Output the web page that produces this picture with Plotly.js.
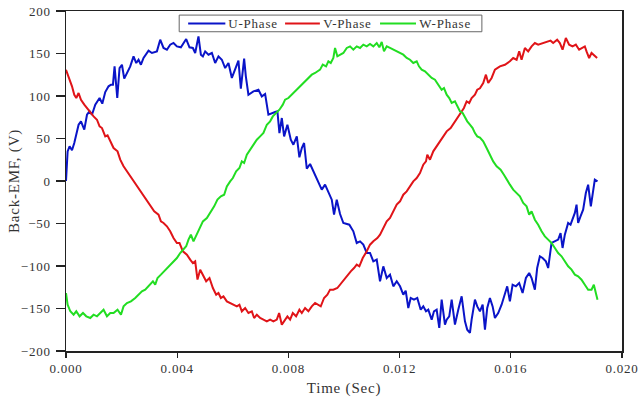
<!DOCTYPE html>
<html>
<head>
<meta charset="utf-8">
<script src="https://cdn.plot.ly/plotly-3.0.1.min.js"></script>
<style>
html,body{margin:0;padding:0;background:#fff;}
#chart{width:641px;height:399px;}
#chart svg text{letter-spacing:0.8px;}
</style>
</head>
<body>
<div id="chart"></div>
<script>
// Time (s) and Back-EMF (V)
const seriesNames = ["U-Phase", "V-Phase", "W-Phase"];

const tU = [0,0.000058,0.000129,0.000216,0.000298,0.000453,0.000539,0.000658,0.000755,0.000848,0.000934,0.001053,0.001208,0.001305,0.001412,0.001531,0.001617,0.001689,0.001747,0.001844,0.001926,0.002013,0.002095,0.002192,0.002311,0.002429,0.002527,0.002609,0.002695,0.002789,0.002969,0.003091,0.003270,0.003389,0.003508,0.003630,0.003748,0.003867,0.003989,0.004133,0.004323,0.004442,0.004564,0.004647,0.004765,0.004852,0.004924,0.005006,0.005125,0.005247,0.005366,0.005484,0.005606,0.005725,0.005844,0.005966,0.006085,0.006203,0.006289,0.006408,0.006469,0.006562,0.006742,0.006922,0.007044,0.007163,0.007281,0.007403,0.007522,0.007605,0.007677,0.007763,0.007846,0.007964,0.008086,0.008180,0.008302,0.008395,0.008482,0.008564,0.008661,0.008780,0.008899,0.009042,0.009200,0.009319,0.009438,0.009560,0.009642,0.009739,0.009858,0.009977,0.010192,0.010336,0.010458,0.010577,0.010695,0.010818,0.010936,0.011055,0.011177,0.011296,0.011414,0.011537,0.011655,0.011774,0.011896,0.012015,0.012133,0.012219,0.012313,0.012399,0.012518,0.012636,0.012759,0.012852,0.012949,0.013032,0.013154,0.013236,0.013333,0.013427,0.013513,0.013632,0.013693,0.013786,0.013873,0.013991,0.014110,0.014232,0.014351,0.014433,0.014530,0.014591,0.014710,0.014793,0.014890,0.014987,0.015070,0.015152,0.015249,0.015346,0.015429,0.015547,0.015669,0.015788,0.015871,0.015968,0.016065,0.016183,0.016302,0.016424,0.016543,0.016661,0.016748,0.016866,0.016949,0.017046,0.017143,0.017262,0.017344,0.017466,0.017585,0.017704,0.017790,0.017862,0.017944,0.018063,0.018149,0.018221,0.018304,0.018365,0.018422,0.018508,0.018602,0.018699,0.018782,0.018879,0.018961,0.019022,0.019119];
const vU = [0,34.8,40.8,36.1,44.7,66.2,70.1,60.4,78,82,78,89.8,97.6,91,104.7,111.4,113.3,113.3,134.8,97.6,132.9,136.8,120.4,127,134.8,146.6,138.8,142.7,136.8,144.7,153.3,150.6,152.5,166.2,156.5,154.5,160.4,162.4,158.4,157.3,167,157.3,156.5,150.6,170.2,148.6,146.6,152.5,148.6,150.6,138.8,146.6,142.7,132.9,138.8,121.2,131,141.6,108.6,144,123.1,101.5,105.4,107.4,99.5,102.3,78,80,81.2,82,56.4,74.1,52.5,66.2,48.6,42.7,52.5,27.8,38.8,44.7,14.5,20,11.4,1.6,-10.2,-4.3,-13,-22,-39.6,-22,-38.8,-49.4,-51.4,-59.2,-72.9,-71,-74.9,-84.7,-84.7,-94.5,-92.5,-118,-100.4,-114.1,-110.2,-123.9,-118,-123.9,-133.7,-129,-149.4,-137.6,-139.6,-137.6,-151.4,-147.5,-153.3,-151.4,-163.1,-153.3,-151.4,-172.9,-139.6,-169,-163.1,-159.2,-139.6,-169,-151.4,-135.7,-165.1,-174.9,-178.8,-163.1,-139.6,-147.5,-153.3,-145.5,-174.9,-149.4,-137.6,-147.5,-161.2,-155.3,-145.5,-133.7,-123.9,-141.6,-122,-123.9,-120,-131.8,-114.1,-108.2,-114.1,-127.8,-102.4,-88.6,-90.6,-94.5,-102.4,-72.9,-71,-69,-61.2,-78.8,-63.1,-49.4,-51.4,-45.5,-37.6,-27.8,-49.4,-41.6,-33.7,-14.1,-4.3,-29.8,-10.2,1.6,-0.4];

const tV = [0,0.000093,0.000216,0.000298,0.000370,0.000453,0.000539,0.000658,0.000755,0.000873,0.000992,0.001114,0.001208,0.001294,0.001412,0.001495,0.001592,0.001711,0.001854,0.001951,0.002070,0.002192,0.002311,0.002429,0.002573,0.002670,0.002789,0.002933,0.003055,0.003173,0.003328,0.003414,0.003508,0.003630,0.003748,0.003867,0.003989,0.004083,0.004205,0.004349,0.004467,0.004564,0.004647,0.004730,0.004827,0.004924,0.005042,0.005161,0.005283,0.005402,0.005484,0.005571,0.005664,0.005786,0.005905,0.006023,0.006146,0.006239,0.006325,0.006444,0.006562,0.006685,0.006767,0.006864,0.006983,0.007102,0.007224,0.007342,0.007461,0.007583,0.007666,0.007763,0.007881,0.007964,0.008061,0.008158,0.008277,0.008395,0.008482,0.008600,0.008719,0.008841,0.008960,0.009042,0.009164,0.009283,0.009402,0.009499,0.009617,0.009761,0.009858,0.009977,0.010099,0.010243,0.010361,0.010458,0.010552,0.010674,0.010818,0.010936,0.011055,0.011199,0.011296,0.011414,0.011537,0.011655,0.011774,0.011896,0.012015,0.012133,0.012255,0.012374,0.012492,0.012615,0.012733,0.012852,0.012949,0.012996,0.013093,0.013211,0.013333,0.013452,0.013571,0.013693,0.013836,0.013955,0.014052,0.014145,0.014232,0.014314,0.014411,0.014505,0.014591,0.014710,0.014793,0.014890,0.015008,0.015105,0.015188,0.015310,0.015429,0.015608,0.015788,0.015968,0.016086,0.016209,0.016302,0.016388,0.016507,0.016625,0.016748,0.016866,0.016985,0.017164,0.017287,0.017430,0.017524,0.017668,0.017765,0.017862,0.017980,0.018099,0.018221,0.018340,0.018458,0.018544,0.018663,0.018724,0.018818,0.018904,0.019022,0.019105];
const vV = [130.9,123.1,111.4,101.5,97.6,103.5,95.6,89.8,85.8,80,76,72.1,64.3,62.3,52.5,53.7,46.7,38.8,34.9,25.1,17.3,11.4,5.5,-0.4,-6.3,-12.2,-18,-23.9,-29.8,-35.7,-39.6,-47.5,-49.4,-53.3,-59.2,-67.1,-73,-73,-82.7,-86.7,-92.5,-96.5,-94.5,-116,-104.4,-110.2,-118,-114.1,-125.9,-133.7,-131.8,-137.6,-135.7,-141.6,-143.5,-145.5,-147.5,-145.5,-153.3,-149.4,-155.3,-153.3,-161.2,-157.3,-161.2,-163.1,-165.1,-163.1,-165.1,-163.1,-155.3,-169,-163.1,-159.2,-163.1,-155.3,-159.2,-151.4,-155.3,-149.4,-153.3,-147.5,-143.5,-145.5,-147.5,-137.6,-133.7,-127.8,-127.8,-125.9,-122,-116,-112.2,-106.3,-102.4,-98.4,-100.4,-90.6,-82.7,-74.9,-71,-67.1,-63.1,-55.3,-47.5,-43.5,-35.7,-27.8,-23.9,-16.1,-12.2,-6.3,-0.4,3.5,9.4,19.2,23.1,31,25.1,34.9,40.8,46.7,52.5,58.4,62.4,68.2,72.2,78,82,85.9,93.7,91.8,97.6,101.5,107.4,109,115.3,125.1,115.3,121.2,131,134.9,136.8,140.8,144.7,142.7,152.5,142.7,156.5,152.5,158.4,162.3,160.4,162.3,164.3,165.1,162.3,166.2,162.3,154.5,168.2,160.4,158.4,160.4,154.5,156.5,158.4,152.5,144.7,150.6,146.7,144.7];

const tW = [0,0.000058,0.000155,0.000273,0.000370,0.000489,0.000611,0.000730,0.000873,0.000992,0.001114,0.001233,0.001351,0.001473,0.001592,0.001711,0.001854,0.001977,0.002070,0.002192,0.002336,0.002491,0.002609,0.002731,0.002850,0.002969,0.003127,0.003209,0.003292,0.003414,0.003533,0.003630,0.003748,0.003867,0.003989,0.004108,0.004205,0.004323,0.004406,0.004492,0.004586,0.004708,0.004827,0.004924,0.005067,0.005186,0.005330,0.005448,0.005571,0.005689,0.005786,0.005905,0.006002,0.006120,0.006239,0.006325,0.006408,0.006505,0.006624,0.006742,0.006864,0.006983,0.007102,0.007224,0.007342,0.007439,0.007558,0.007677,0.007799,0.007881,0.008000,0.008122,0.008241,0.008359,0.008482,0.008600,0.008719,0.008841,0.008960,0.009042,0.009139,0.009236,0.009355,0.009438,0.009524,0.009617,0.009678,0.009761,0.009858,0.009977,0.010099,0.010218,0.010336,0.010458,0.010577,0.010695,0.010818,0.010936,0.011055,0.011177,0.011271,0.011357,0.011439,0.011537,0.011655,0.011774,0.011896,0.012015,0.012133,0.012255,0.012374,0.012492,0.012615,0.012697,0.012794,0.012913,0.013032,0.013154,0.013272,0.013391,0.013513,0.013596,0.013693,0.013786,0.013873,0.013991,0.014074,0.014171,0.014268,0.014351,0.014433,0.014530,0.014627,0.014710,0.014793,0.014890,0.015008,0.015130,0.015249,0.015367,0.015490,0.015633,0.015752,0.015849,0.015968,0.016086,0.016209,0.016327,0.016446,0.016568,0.016661,0.016748,0.016866,0.016985,0.017107,0.017226,0.017344,0.017466,0.017585,0.017704,0.017826,0.017944,0.018063,0.018185,0.018304,0.018422,0.018544,0.018663,0.018782,0.018904,0.018987,0.019059,0.019119];
const vW = [-131.8,-145.5,-153.3,-157.3,-153.3,-159.2,-155.3,-159.2,-161.2,-157.3,-159.2,-155.3,-151.4,-159.2,-155.3,-155.3,-151.4,-157.3,-147.5,-143.5,-141.6,-137.6,-133.7,-129.8,-127.8,-123.9,-118,-121.9,-114.1,-110.2,-106.3,-102.4,-98.4,-94.5,-90.6,-84.7,-80.8,-76.8,-69,-63.1,-71,-63.1,-55.3,-47.5,-43.5,-37.6,-29.8,-21.9,-18,-16.1,-6.3,-0.4,3.5,11.4,15.3,23.1,21.2,31,36.9,42.7,48.6,52.5,56.5,66.2,70.2,76,80,83.9,89.8,95.7,97.6,101.5,106.2,109.4,113.3,117.2,121.2,125.1,127.1,129,131,136.9,134.9,140.8,138.8,144.7,156.5,146.7,148.6,150.6,156.5,158.4,154.5,158.4,156.5,160.4,158.4,161.2,158.4,162.3,157.3,163.5,152.5,158.4,156.5,154.5,152.5,150.6,148.6,144.7,142.7,138.8,140.8,134.9,131,129,125.1,121.2,119.2,113.3,107.4,109.4,101.5,97.6,91.8,93.7,87.8,82,80,74.1,70.2,66.2,62.3,56.4,52.5,51,46.7,38.8,31,23.1,17.3,13.3,7.4,1.5,-4.3,-10.2,-14.1,-18,-25.9,-29.8,-39.6,-35.7,-45.5,-51.4,-59.2,-65.1,-69,-72.9,-78.8,-84.7,-88.6,-94.5,-100.4,-104.3,-110.2,-112.2,-116.1,-122,-127.9,-127.9,-122,-131.8,-139.6];

const xTicks = [0, 0.004, 0.008, 0.012, 0.016, 0.020];
const xTickText = ["0.000", "0.004", "0.008", "0.012", "0.016", "0.020"];
const yTicks = [-200, -150, -100, -50, 0, 50, 100, 150, 200];

const serif = '"Liberation Serif", "Times New Roman", "DejaVu Serif", serif';
const colors = ['#0a14c8', '#e01418', '#22dd22'];

const traces = [
  {x: tU, y: vU, name: seriesNames[0]},
  {x: tV, y: vV, name: seriesNames[1]},
  {x: tW, y: vW, name: seriesNames[2]}
].map((t, i) => Object.assign(t, {
  type: 'scatter', mode: 'lines', showlegend: false,
  line: {color: colors[i], width: 2}
}));

// Boxed horizontal legend (positions in paper fractions)
const legBox = {x0: 0.2036, x1: 0.748, y0: 0.939, y1: 0.988};
const legLineX = [[0.2197, 0.2866], [0.394, 0.4566], [0.5648, 0.6295]];
const legTextX = [0.2925, 0.4637, 0.6365];
const legY = 0.9635;

const shapes = [{
  type: 'rect', xref: 'paper', yref: 'paper',
  x0: legBox.x0, x1: legBox.x1, y0: legBox.y0, y1: legBox.y1,
  line: {color: '#666', width: 1}, fillcolor: '#fff', layer: 'above'
}].concat(seriesNames.map((n, i) => ({
  type: 'line', xref: 'paper', yref: 'paper',
  x0: legLineX[i][0], x1: legLineX[i][1], y0: legY, y1: legY,
  line: {color: colors[i], width: 2}, layer: 'above'
})));

const annotations = seriesNames.map((n, i) => ({
  text: n, xref: 'paper', yref: 'paper', x: legTextX[i], y: legY,
  xanchor: 'left', yanchor: 'middle', showarrow: false,
  font: {family: serif, size: 13, color: '#333'}
}));

const axisCommon = {
  showgrid: false, zeroline: false,
  showline: true, linecolor: '#222', linewidth: 1.5, mirror: true,
  ticks: 'outside', tickcolor: '#222', tickwidth: 1.2,
  tickfont: {family: serif, size: 13, color: '#333'}
};

const layout = {
  width: 641, height: 399,
  margin: {l: 66, r: 19, t: 11, b: 48, pad: 0},
  paper_bgcolor: '#fff', plot_bgcolor: '#fff',
  showlegend: false,
  shapes: shapes,
  annotations: annotations,
  xaxis: Object.assign({}, axisCommon, {
    range: [0, 0.020], tickvals: xTicks, ticktext: xTickText, ticklen: 5,
    title: {text: 'Time (Sec)', font: {family: serif, size: 15, color: '#333'}, standoff: 7}
  }),
  yaxis: Object.assign({}, axisCommon, {
    range: [-200, 200], tickvals: yTicks, ticklen: 9, ticklabelstandoff: 2,
    title: {text: 'Back-EMF, (V)', font: {family: serif, size: 15, color: '#333'}, standoff: 1}
  })
};

Plotly.newPlot('chart', traces, layout, {displayModeBar: false, staticPlot: true});
</script>
</body>
</html>
